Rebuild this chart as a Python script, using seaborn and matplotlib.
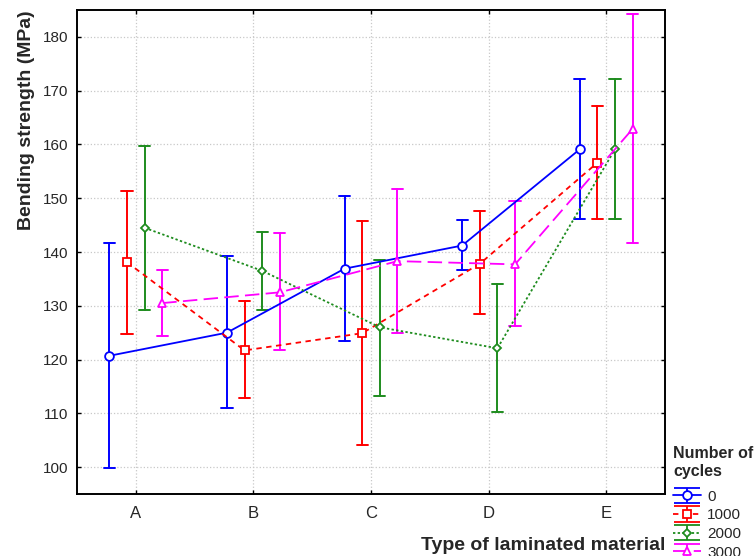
'''Bending strength vs. type of laminated material, per number of cycles'''

import matplotlib
matplotlib.use('Agg')
import matplotlib.pyplot as plt
import seaborn as sns
import pandas as pd
import numpy as np

# data (mean, lower and upper end of the error bar)
materials = ['A', 'B', 'C', 'D', 'E']
cycles = ['0', '1000', '2000', '3000']

mean_0 = [120.7, 125.0, 136.9, 141.2, 159.1]
low_0 = [99.8, 110.9, 123.5, 136.6, 146.1]
high_0 = [141.7, 139.2, 150.4, 145.9, 172.2]

mean_1000 = [138.1, 121.7, 124.9, 137.8, 156.6]
low_1000 = [124.8, 112.8, 104.1, 128.5, 146.1]
high_1000 = [151.4, 130.8, 145.7, 147.7, 167.2]

mean_2000 = [144.5, 136.5, 126.0, 122.1, 159.1]
low_2000 = [129.3, 129.3, 113.3, 110.2, 146.1]
high_2000 = [159.7, 143.7, 138.6, 134.0, 172.2]

mean_3000 = [130.5, 132.5, 138.3, 137.7, 162.9]
low_3000 = [124.4, 121.7, 124.9, 126.3, 141.7]
high_3000 = [136.6, 143.5, 151.8, 149.5, 184.3]

colors = ['#0000ff', '#ff0000', '#1e8c1e', '#ff00ff']
markers = ['o', 's', 'D', '^']
marker_sizes = [6.3, 6, 4.3, 6.3]
linestyles = ['-', (0, (3, 2.5)), (0, (1.3, 1.3)), (0, (8, 3.5))]

# long table: low / mean / high rows, median gives the point, min-max the bar
series = {
    '0': (mean_0, low_0, high_0),
    '1000': (mean_1000, low_1000, high_1000),
    '2000': (mean_2000, low_2000, high_2000),
    '3000': (mean_3000, low_3000, high_3000),
}
rows = []
for c, (m, lo, hi) in series.items():
    for mat, a, b, d in zip(materials, m, lo, hi):
        for v in (a, b, d):
            rows.append({'Type': mat, 'Cycles': c, 'Strength': v})
df = pd.DataFrame(rows)

sns.set_style('white')
plt.rcParams['font.family'] = ['Liberation Sans', 'DejaVu Sans']

fig = plt.figure(figsize=(7.56, 5.56), dpi=100)
ax = fig.add_axes([77 / 756, 62 / 556, 588 / 756, 484 / 556])

sns.pointplot(data=df, x='Type', y='Strength', hue='Cycles', order=materials,
              hue_order=cycles, estimator='median', errorbar=('pi', 100),
              dodge=0.45, palette=colors, markers=markers, linestyles=linestyles,
              capsize=0.095, err_kws={'linewidth': 1.4}, linewidth=1.3,
              markersize=6, markeredgewidth=1.3, legend=False, ax=ax)

# hollow markers on top of the bars
marked = [ln for ln in ax.lines if ln.get_marker() not in (None, 'None', '', ' ')]
for ln, ms in zip(marked, marker_sizes):
    ln.set_markerfacecolor('white')
    ln.set_markersize(ms)
    ln.set_zorder(3)

ax.set_xlim(-0.5, 4.5)
ax.set_ylim(95, 185)
ax.set_yticks(np.arange(100, 181, 10))
ax.grid(True, color='#c8c8c8', linestyle=':', linewidth=0.9)
ax.set_axisbelow(True)
for s in ax.spines.values():
    s.set_visible(True)
    s.set_color('black')
    s.set_linewidth(1.4)
ax.tick_params(direction='in', length=3, width=1, top=True, right=True,
               bottom=True, left=True, color='black')
ax.tick_params(axis='x', labelsize=12, pad=9)
ax.tick_params(axis='y', labelsize=11, pad=6)

ax.set_xlabel('Type of laminated material', fontsize=14, fontweight='bold',
              loc='right', labelpad=11)
ax.set_ylabel('Bending strength (MPa)', fontsize=14, fontweight='bold',
              loc='top', labelpad=6)

# errorbar-style legend handles
handles = []
for col, mk, ms, ls in zip(colors, markers, marker_sizes, linestyles):
    h = ax.errorbar([np.nan], [np.nan], yerr=[1], color=col, marker=mk,
                    linestyle=ls, markerfacecolor='white', markersize=ms,
                    markeredgewidth=1.3, linewidth=1.3, capsize=9.5,
                    elinewidth=1.3, capthick=1.3)
    handles.append(h)
leg = fig.legend(handles, cycles, title='Number of\ncycles', loc='upper left',
                 bbox_to_anchor=(673 / 756, 1 - 446 / 556), frameon=False,
                 borderpad=0, borderaxespad=0, handlelength=1.8,
                 handletextpad=0.45, labelspacing=0.3, fontsize=11,
                 alignment='left',
                 title_fontproperties={'weight': 'bold', 'size': 11.5})
leg.get_title().set_linespacing(1.25)
# a bit more room between the title and the entries
leg._legend_box.sep = 0.3 * 11 + 4.5

plt.savefig('out.png', dpi=100)
